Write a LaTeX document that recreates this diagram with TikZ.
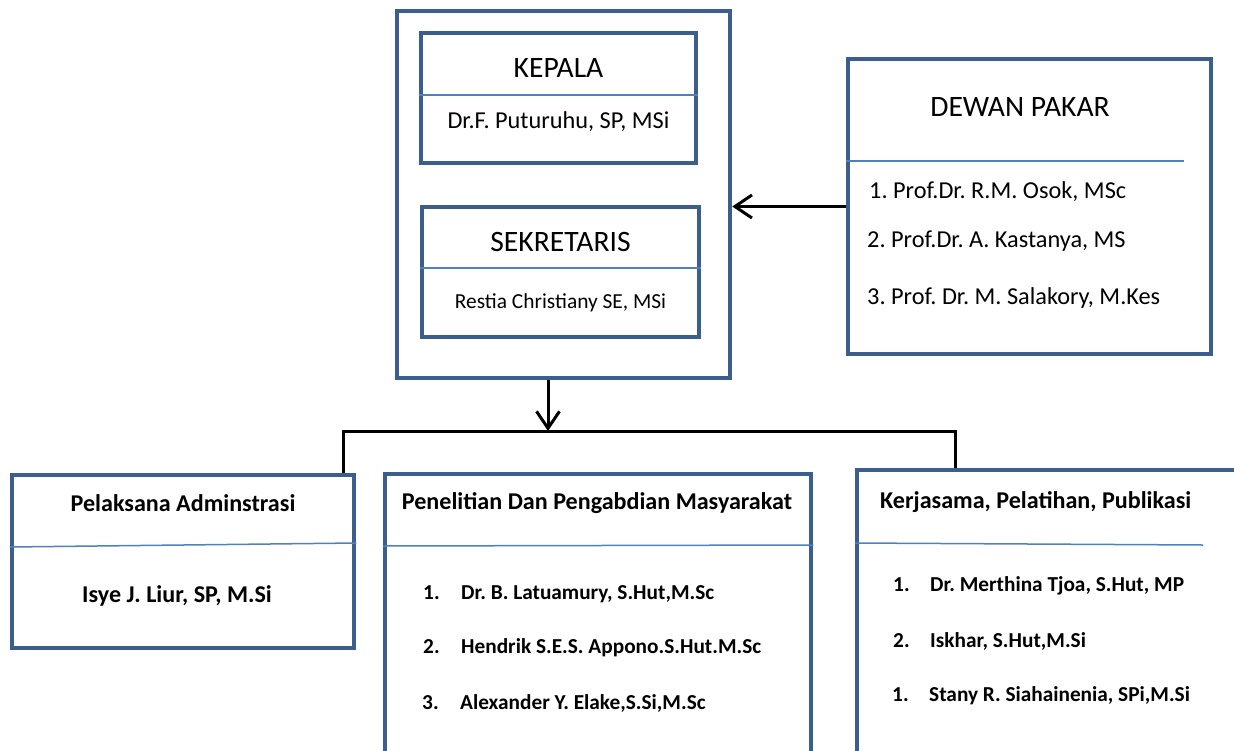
\documentclass[tikz,border=0pt]{standalone}
\usepackage{fontspec}
\setmainfont{Carlito}
\usetikzlibrary{arrows.meta}
\definecolor{boxblue}{RGB}{59,94,140}
\definecolor{divblue}{RGB}{79,129,189}
\tikzset{
  blbox/.style={draw=boxblue, line width=4.5pt, inner sep=0pt, fill=white},
  divline/.style={draw=divblue, line width=1.5pt},
  conn/.style={draw=black, line width=3pt},
  arr/.style={conn, -{Straight Barb[length=17pt,width=23pt,line width=3pt]}},
  head/.style={font=\fontsize{29.6}{34}\selectfont, inner sep=0pt},
  body/.style={font=\fontsize{24.3}{28}\selectfont, inner sep=0pt},
  sbody/.style={font=\fontsize{21.4}{25}\selectfont, inner sep=0pt},
  bhead/.style={font=\fontsize{24.1}{28}\selectfont\bfseries, inner sep=0pt},
  bbody/.style={font=\fontsize{21.3}{25}\selectfont\bfseries, inner sep=0pt},
}
\frenchspacing
\begin{document}
\begin{tikzpicture}[x=1pt,y=-1pt]
\clip (0,0) rectangle (1234,750);
\fill[white] (0,0) rectangle (1234,750);

% outer top box
\node[blbox, minimum width=333pt, minimum height=367pt] (outer) at (563.5,194.5) {};
% KEPALA
\node[blbox, minimum width=275pt, minimum height=130pt] (kepala) at (558.5,98) {};
\draw[divline] (kepala.west |- 0,95) -- (kepala.east |- 0,95);
\node[head] (kepalat) at (558.5,68) {KEPALA};
\node[body] (kepalan) at (558.5,122) {Dr.F. Puturuhu, SP, MSi};
% SEKRETARIS
\node[blbox, minimum width=277pt, minimum height=130pt] (sekr) at (560.5,272) {};
\draw[divline] (sekr.west |- 0,268) -- (sekr.east |- 0,268);
\node[head] (sekrt) at (560.5,242) {SEKRETARIS};
\node[sbody] (sekrn) at (560.5,303) {Restia Christiany SE, MSi};

% DEWAN PAKAR
\node[blbox, minimum width=363pt, minimum height=295pt] (dewan) at (1029.5,206.5) {};
\draw[divline] (dewan.west |- 0,161) -- (1184,161);
\node[head] (dewant) at (1020,107) {DEWAN PAKAR};
\node[body, anchor=west] (d1) at (869,192) {1. Prof.Dr. R.M. Osok, MSc};
\node[body, anchor=west] (d2) at (867,241) {2. Prof.Dr. A. Kastanya, MS};
\node[body, anchor=west] (d3) at (867,298) {3. Prof. Dr. M. Salakory, M.Kes};

% Pelaksana
\node[blbox, minimum width=342pt, minimum height=173pt] (pel) at (183,561.5) {};
\draw[divline] (pel.west |- 0,547) -- (pel.east |- 0,543);
\node[bhead] (pelt) at (183,503) {Pelaksana Adminstrasi};
\node[bhead] (peln) at (177,596) {Isye J. Liur, SP, M.Si};

% Penelitian
\node[blbox, minimum width=426pt, minimum height=340pt] (pen) at (598,644) {};
\draw[divline] (pen.west |- 0,546) -- (pen.east |- 0,545);
\node[bhead] (pent) at (597,503) {Penelitian Dan Pengabdian Masyarakat};
\node[bbody, anchor=west] (p1) at (423,594) {\makebox[38pt][l]{1.}Dr. B. Latuamury, S.Hut,M.Sc};
\node[bbody, anchor=west] (p2) at (423,648) {\makebox[38pt][l]{2.}Hendrik S.E.S. Appono.S.Hut.M.Sc};
\node[bbody, anchor=west] (p3) at (422,703) {\makebox[38pt][l]{3.}Alexander Y. Elake,S.Si,M.Sc};

% Kerjasama
\node[blbox, minimum width=443pt, minimum height=340pt] (ker) at (1078.5,640) {};
\draw[divline] (ker.west |- 0,543) -- (1203,545);
\node[bhead, anchor=west] (kert) at (880,502) {Kerjasama, Pelatihan, Publikasi};
\node[bbody, anchor=west] (k1) at (893,586) {\makebox[37pt][l]{1.}Dr. Merthina Tjoa, S.Hut, MP};
\node[bbody, anchor=west] (k2) at (893,641) {\makebox[37pt][l]{2.}Iskhar, S.Hut,M.Si};
\node[bbody, anchor=west] (k3) at (892,696) {\makebox[37pt][l]{1.}Stany R. Siahainenia, SPi,M.Si};

% connectors
\draw[arr] (dewan.west) -- (dewan.west -| outer.east);
\coordinate (bus) at (548,431);
\coordinate (busL) at (343,431);
\coordinate (busR) at (955,431);
\draw[arr] (outer.south -| bus) -- (bus);
\draw[conn] (pel.north -| busL) -- (busL) -- (busR) -- (ker.north -| busR);
\end{tikzpicture}
\end{document}
